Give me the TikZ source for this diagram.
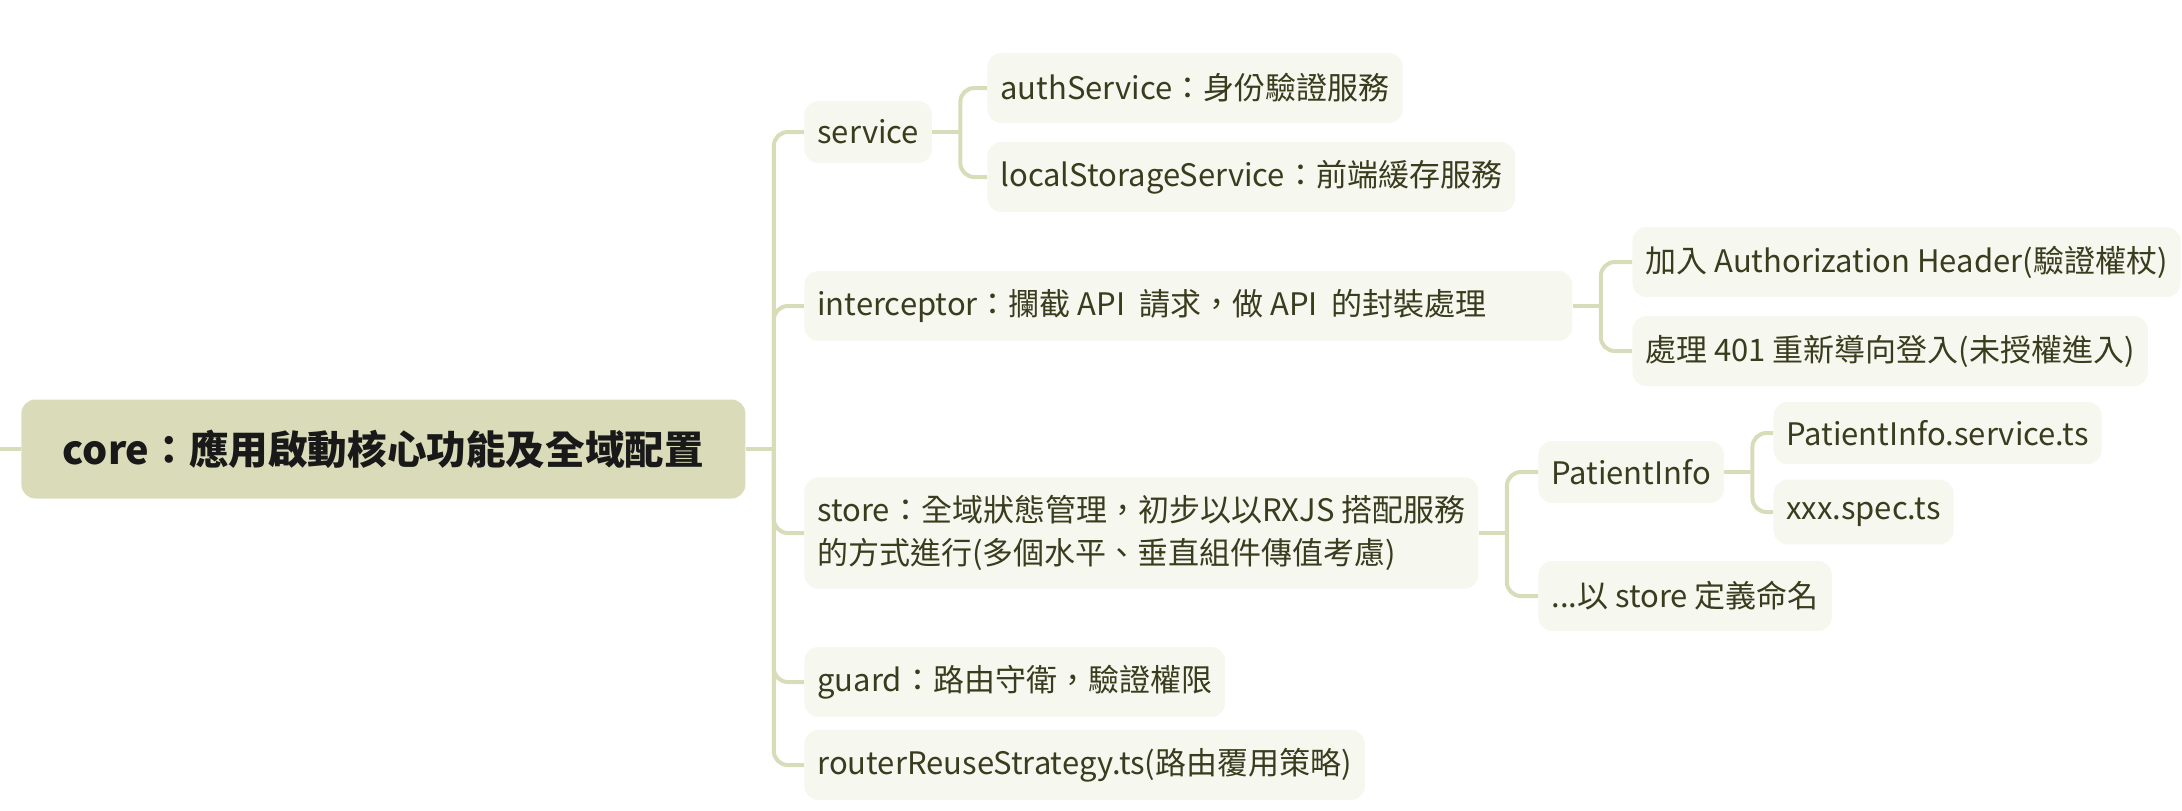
\documentclass[tikz,border=0pt]{standalone}
\usepackage{fontspec}
\usepackage{tikz}
\usepackage{xcolor}
\usetikzlibrary{arrows.meta,positioning,calc}
\newfontfamily\cjk{Noto Sans CJK TC}
\definecolor{rootfill}{RGB}{218,220,185}
\definecolor{topicfill}{RGB}{246,247,239}
\definecolor{linkcol}{RGB}{217,220,184}
\definecolor{topictext}{RGB}{58,60,30}
\newcommand{\topicfont}{\cjk\fontsize{15.5}{21.5}\selectfont}
\newcommand{\rootfont}{\cjk\bfseries\fontsize{19.8}{24}\selectfont}

\begin{document}
\begin{tikzpicture}[>=Latex, x=0.5pt, y=-0.5pt,
  topic/.style={anchor=west, rounded corners=7pt, fill=topicfill, text=topictext,
    font=\topicfont, inner xsep=6.5pt, inner ysep=9pt, minimum height=35pt},
  latin/.style={topic, minimum height=31pt},
  link/.style={draw=linkcol, line width=2pt, rounded corners=7pt}]
  \useasboundingbox (0,0) rectangle (2182,810);
  \node[fill=rootfill, rounded corners=7pt, font=\rootfont, text=black!90,
    minimum width=362pt, minimum height=49.5pt, anchor=west] (root) at (21,449)
    {core：應用啟動核心功能及全域配置};
  \coordinate (stub) at (0,449);
  \draw[link] (stub) -- (root.west);

  \node[latin] (svc) at (804,132) {service};
  \node[topic] (icp) at (804,306)
    {\makebox[371pt][l]{interceptor：攔截 API\ \ 請求，做 API\ \ 的封裝處理}};
  \node[topic, align=left] (sto) at (804,533)
    {store：全域狀態管理，初步以以RXJS 搭配服務\\的方式進行(多個水平、垂直組件傳值考慮)};
  \node[topic] (grd) at (804,682) {guard：路由守衛，驗證權限};
  \node[topic] (rtr) at (804,765) {routerReuseStrategy.ts(路由覆用策略)};

  \node[topic] (auth) at (987,88) {authService：身份驗證服務};
  \node[topic] (local) at (987,177) {localStorageService：前端緩存服務};
  \node[topic] (authz) at (1632,262) {加入 Authorization Header(驗證權杖)};
  \node[topic] (h401) at (1632,351) {處理 401 重新導向登入(未授權進入)};
  \node[latin] (pinfo) at (1538,472) {PatientInfo};
  \node[topic] (naming) at (1538,596) {...以 store 定義命名};
  \node[latin] (psvc) at (1773,433) {PatientInfo.service.ts};
  \node[latin] (spec) at (1773,512) {xxx.spec.ts};

  \draw[link] (root.east) -- ++(14pt,0) coordinate (rootb);
  \draw[link] (rootb) |- (svc.west);
  \draw[link] (rootb) |- (icp.west);
  \draw[link] (rootb) |- (sto.west);
  \draw[link] (rootb) |- (grd.west);
  \draw[link] (rootb) |- (rtr.west);

  \draw[link] (svc.east) -- ++(14pt,0) coordinate (svcb);
  \draw[link] (svcb) |- (auth.west);
  \draw[link] (svcb) |- (local.west);

  \draw[link] (icp.east) -- ++(14pt,0) coordinate (icpb);
  \draw[link] (icpb) |- (authz.west);
  \draw[link] (icpb) |- (h401.west);

  \draw[link] (sto.east) -- ++(14pt,0) coordinate (stob);
  \draw[link] (stob) |- (pinfo.west);
  \draw[link] (stob) |- (naming.west);

  \draw[link] (pinfo.east) -- ++(14pt,0) coordinate (pinfob);
  \draw[link] (pinfob) |- (psvc.west);
  \draw[link] (pinfob) |- (spec.west);
\end{tikzpicture}
\end{document}
